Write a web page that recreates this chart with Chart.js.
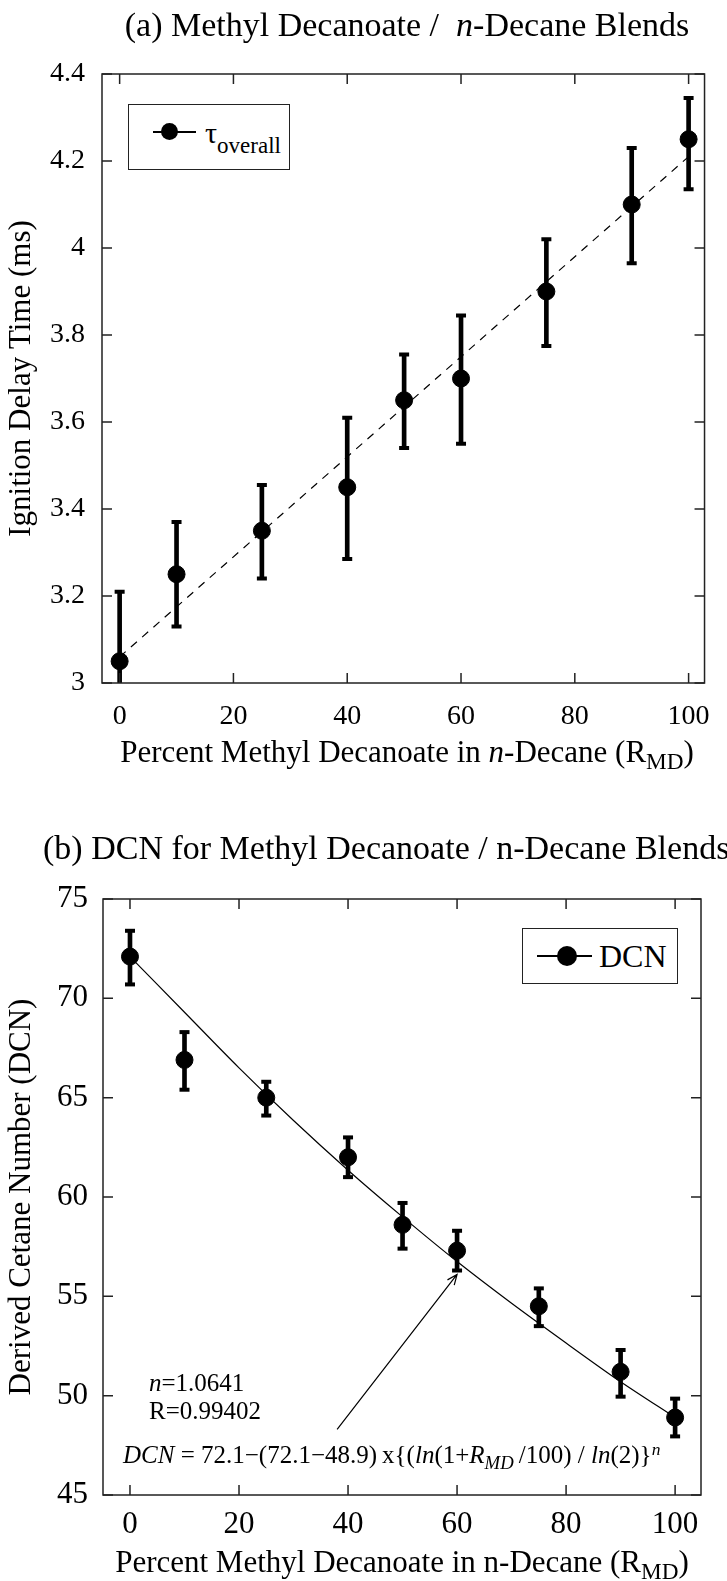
<!DOCTYPE html>
<html>
<head>
<meta charset="utf-8">
<script src="https://cdn.jsdelivr.net/npm/chart.js@4.4.1/dist/chart.umd.min.js"></script>
<style>
  body { margin: 0; background: #fff; }
  #wrap { position: relative; width: 727px; height: 1581px; overflow: hidden;
          font-family: 'Liberation Serif', 'Times New Roman', serif; color: #000; }
  .panel { position: absolute; left: 0; width: 727px; }
  .txt { position: absolute; white-space: nowrap; line-height: 1; }
  .txt sub { font-size: 0.75em; vertical-align: -0.3em; line-height: 0; }
  .txt sup { font-size: 0.7em; vertical-align: 0.45em; line-height: 0; }
  .legend { position: absolute; box-sizing: border-box; border: 1.5px solid #222; background: #fff; }
  .lline { position: absolute; height: 1.5px; background: #000; }
  .ldot { position: absolute; border-radius: 50%; background: #000; }
</style>
</head>
<body>
<div id="wrap">
  <div class="panel" style="top:0; height:790px;"><canvas id="chartA"></canvas></div>
  <div class="panel" style="top:790px; height:791px;"><canvas id="chartB"></canvas></div>

  <!-- panel (a) texts -->
  <div class="txt" style="left:102px; width:610px; text-align:center; top:8px; font-size:34px;">(a) Methyl Decanoate /&nbsp; <i>n</i>-Decane Blends</div>
  <div class="txt" style="left:102px; width:610px; text-align:center; top:736px; font-size:31px;">Percent Methyl Decanoate in <i>n</i>-Decane (R<sub>MD</sub>)</div>
  <div class="legend" style="left:128px; top:104px; width:162px; height:66px;"></div>
  <div class="lline" style="left:153px; top:131px; width:43px;"></div>
  <div class="ldot" style="left:161px; top:123px; width:17px; height:17px;"></div>
  <div class="txt" style="left:205px; top:118px; font-size:30px;">&tau;<span style="font-size:23px; position:relative; top:10px;">overall</span></div>

  <!-- panel (b) texts -->
  <div class="txt" style="left:43px; top:831px; font-size:34px;">(b) DCN for Methyl Decanoate / n-Decane Blends</div>
  <div class="txt" style="left:103px; width:598px; text-align:center; top:1546px; font-size:31px;">Percent Methyl Decanoate in n-Decane (R<sub>MD</sub>)</div>
  <div class="legend" style="left:522px; top:928px; width:156px; height:56px;"></div>
  <div class="lline" style="left:537px; top:955px; width:55px;"></div>
  <div class="ldot" style="left:557px; top:946px; width:20px; height:20px;"></div>
  <div class="txt" style="left:599px; top:940px; font-size:32px;">DCN</div>
  <div class="txt" style="left:149px; top:1370px; font-size:25px;"><i>n</i>=1.0641</div>
  <div class="txt" style="left:149px; top:1398px; font-size:25px;">R=0.99402</div>
  <div class="txt" style="left:123px; top:1442px; font-size:25px;"><i>DCN</i> = 72.1&minus;(72.1&minus;48.9)&thinsp;x{(<i>ln</i>(1+<i>R<sub>MD</sub></i>&thinsp;/100) / <i>ln</i>(2)}<sup><i>n</i></sup></div>
</div>

<script>
// blend ratio (percent methyl decanoate)
const xPercent = [0, 10, 25, 40, 50, 60, 75, 90, 100];

// (a) ignition delay, ms
const tauOverall = [3.05, 3.25, 3.35, 3.45, 3.65, 3.70, 3.90, 4.10, 4.25];
const tauLow     = [2.89, 3.13, 3.24, 3.285, 3.54, 3.55, 3.775, 3.965, 4.135];
const tauHigh    = [3.21, 3.37, 3.455, 3.61, 3.755, 3.845, 4.02, 4.23, 4.345];
const tauFitX = [0, 100];
const tauFitY = [3.06, 4.21];
const xTicksA = [0, 20, 40, 60, 80, 100];
const yTicksA = [3, 3.2, 3.4, 3.6, 3.8, 4, 4.2, 4.4];

// (b) derived cetane number
const dcn     = [72.1, 66.9, 65.0, 62.0, 58.6, 57.3, 54.5, 51.2, 48.9];
const dcnLow  = [70.7, 65.4, 64.1, 61.0, 57.4, 56.3, 53.5, 49.95, 47.95];
const dcnHigh = [73.4, 68.3, 65.8, 63.0, 59.7, 58.3, 55.4, 52.3, 49.85];
const dcnFitX = [0, 10, 20, 30, 40, 50, 60, 70, 80, 90, 100];
const dcnFitY = [72.1, 69.3, 66.5, 63.85, 61.35, 59.0, 56.75, 54.65, 52.65, 50.7, 48.9];
const xTicksB = [0, 20, 40, 60, 80, 100];
const yTicksB = [45, 50, 55, 60, 65, 70, 75];

Chart.defaults.font.family = "'Liberation Serif', 'Times New Roman', serif";
Chart.defaults.color = '#000';

// box around the plot, inward ticks on all four sides, optional arrow
const framePlugin = {
    id: 'frame',
    afterDraw(chart, args, opts) {
        const { ctx, chartArea: a, scales: { x, y } } = chart;
        const len = opts.tickLen || 10;
        ctx.save();
        ctx.strokeStyle = '#222';
        ctx.lineWidth = 1.5;
        ctx.strokeRect(a.left, a.top, a.right - a.left, a.bottom - a.top);
        ctx.beginPath();
        x.ticks.forEach(t => {
            const px = x.getPixelForValue(t.value);
            ctx.moveTo(px, a.bottom); ctx.lineTo(px, a.bottom - len);
            ctx.moveTo(px, a.top); ctx.lineTo(px, a.top + len);
        });
        y.ticks.forEach(t => {
            const py = y.getPixelForValue(t.value);
            ctx.moveTo(a.left, py); ctx.lineTo(a.left + len, py);
            ctx.moveTo(a.right, py); ctx.lineTo(a.right - len, py);
        });
        ctx.stroke();

        if (opts.arrow) {
            const x0 = x.getPixelForValue(opts.arrow.from[0]);
            const y0 = y.getPixelForValue(opts.arrow.from[1]);
            const x1 = x.getPixelForValue(opts.arrow.to[0]);
            const y1 = y.getPixelForValue(opts.arrow.to[1]);
            const ang = Math.atan2(y1 - y0, x1 - x0);
            ctx.lineWidth = 1.2;
            ctx.strokeStyle = '#000';
            ctx.beginPath();
            ctx.moveTo(x0, y0);
            ctx.lineTo(x1, y1);
            ctx.moveTo(x1 - 11 * Math.cos(ang - 0.4), y1 - 11 * Math.sin(ang - 0.4));
            ctx.lineTo(x1, y1);
            ctx.lineTo(x1 - 11 * Math.cos(ang + 0.4), y1 - 11 * Math.sin(ang + 0.4));
            ctx.stroke();
        }
        ctx.restore();
    }
};

const pts = (xs, ys) => xs.map((x, i) => ({ x, y: ys[i] }));

function errorDatasets(xs, lo, hi) {
    const cap = { type: 'scatter', pointStyle: 'line', pointRadius: 5, borderWidth: 4,
                  borderColor: '#000', backgroundColor: '#000', clip: 0, order: 1 };
    return [
        { ...cap, data: pts(xs, hi) },
        { ...cap, data: pts(xs, lo) },
        {
            type: 'bar',
            data: xs.map((x, i) => ({ x, y: [lo[i], hi[i]] })),
            barThickness: 4,
            grouped: false,
            backgroundColor: '#000',
            clip: 0,
            order: 2
        }
    ];
}

function xScale(min, max, ticks, size, pad) {
    return {
        type: 'linear', min, max,
        offset: false, // the bar dataset would otherwise pad the axis
        grid: { display: false, drawTicks: false, offset: false },
        border: { display: false },
        ticks: { font: { size }, padding: pad, callback: v => String(v) },
        afterBuildTicks: s => { s.ticks = ticks.map(v => ({ value: v })); },
        afterFit: s => { s.height = 60; }
    };
}

function yScale(min, max, ticks, size, pad, width, title) {
    return {
        type: 'linear', min, max,
        grid: { display: false, drawTicks: false },
        border: { display: false },
        ticks: { font: { size }, padding: pad, callback: v => String(v) },
        title: { display: true, text: title, font: { size: 31 }, padding: { top: 3, bottom: 0 } },
        afterBuildTicks: s => { s.ticks = ticks.map(v => ({ value: v })); },
        afterFit: s => { s.width = width; }
    };
}

// (a) ignition delay chart
new Chart(document.getElementById('chartA'), {
    type: 'scatter',
    data: {
        datasets: [
            { data: pts(xPercent, tauOverall), pointRadius: 8.5, backgroundColor: '#000',
              borderColor: '#000', order: 0 },
            ...errorDatasets(xPercent, tauLow, tauHigh),
            { type: 'line', data: pts(tauFitX, tauFitY), borderColor: '#000', borderWidth: 1.2,
              borderDash: [8, 7], pointRadius: 0, fill: false, order: 3 }
        ]
    },
    options: {
        responsive: true,
        maintainAspectRatio: false,
        animation: false,
        events: [],
        layout: { padding: { left: 0, right: 15, top: 74, bottom: 47 } },
        scales: {
            x: xScale(-3.1, 102.8, xTicksA, 28, 17),
            y: yScale(3, 4.4, yTicksA, 28, 17, 102, 'Ignition Delay Time (ms)')
        },
        plugins: {
            legend: { display: false },
            tooltip: { enabled: false },
            frame: { tickLen: 10 }
        }
    },
    plugins: [framePlugin]
});

// (b) DCN chart
new Chart(document.getElementById('chartB'), {
    type: 'scatter',
    data: {
        datasets: [
            { data: pts(xPercent, dcn), pointRadius: 8.5, backgroundColor: '#000',
              borderColor: '#000', order: 0 },
            ...errorDatasets(xPercent, dcnLow, dcnHigh),
            { type: 'line', data: pts(dcnFitX, dcnFitY), borderColor: '#000', borderWidth: 1.2,
              tension: 0.3, pointRadius: 0, fill: false, order: 3 }
        ]
    },
    options: {
        responsive: true,
        maintainAspectRatio: false,
        animation: false,
        events: [],
        layout: { padding: { left: 0, right: 26, top: 109, bottom: 26 } },
        scales: {
            x: xScale(-4.95, 104.75, xTicksB, 31, 11),
            y: yScale(45, 75, yTicksB, 31, 15, 103, 'Derived Cetane Number (DCN)')
        },
        plugins: {
            legend: { display: false },
            tooltip: { enabled: false },
            frame: { tickLen: 10, arrow: { from: [38, 48.3], to: [60, 56.1] } }
        }
    },
    plugins: [framePlugin]
});
</script>
</body>
</html>
